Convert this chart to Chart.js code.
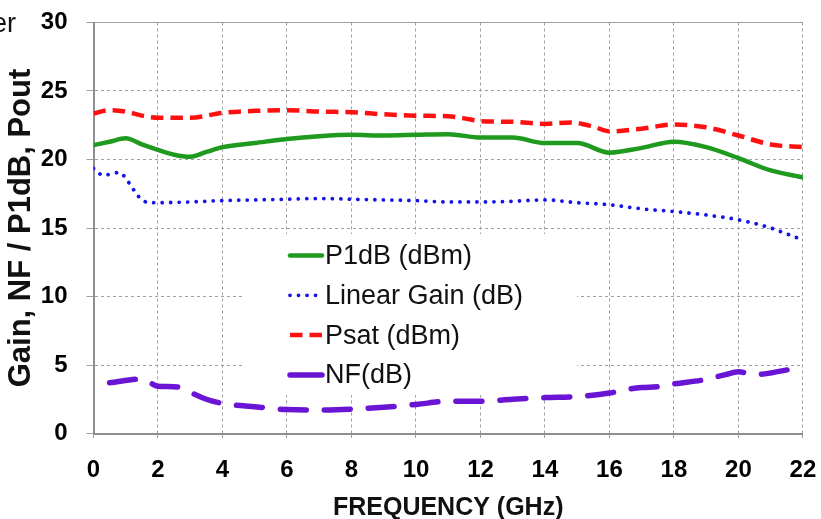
<!DOCTYPE html>
<html><head><meta charset="utf-8">
<script src="https://cdn.jsdelivr.net/npm/chart.js@4.4.1/dist/chart.umd.min.js"></script>
<style>html,body{margin:0;padding:0;background:#fff;}#wrap{width:821px;height:519px;position:relative;}</style>
</head><body><div id="wrap"><canvas id="c" width="821" height="519"></canvas></div>
<script>
// ---- data ----
const xTickValues = [0,2,4,6,8,10,12,14,16,18,20,22];
const yTickValues = [0,5,10,15,20,25,30];
const seriesLabels = ['P1dB (dBm)','Linear Gain (dB)','Psat (dBm)','NF(dB)'];

const p1dbFreq = [0,0.5,1,1.5,2,2.5,3,3.5,4,5,6,7,8,9,10,11,12,13,14,15,16,17,18,19,20,21,22];
const p1dbVals = [21.05,21.3,21.55,21.1,20.7,20.35,20.2,20.55,20.9,21.2,21.5,21.7,21.8,21.75,21.8,21.85,21.6,21.6,21.2,21.2,20.5,20.85,21.3,20.9,20.1,19.2,18.7];

const gainFreq = [0,0.3,0.8,1.1,1.3,1.5,1.8,2,3,4,5,6,7,8,9,10,11,12,13,14,15,16,17,18,19,20,21,21.8];
const gainVals = [19.35,18.85,19.05,18.3,17.6,17.05,16.85,16.85,16.9,17.0,17.05,17.1,17.15,17.1,17.05,17.0,16.9,16.9,16.95,17.05,16.85,16.7,16.4,16.2,15.95,15.6,15.0,14.3];

const psatFreq = [0,0.5,1,1.5,2,3,4,5,6,7,8,9,10,11,11.5,12,13,14,14.8,15.5,16,17,18,19,20,21,22];
const psatVals = [23.35,23.6,23.5,23.2,23.05,23.05,23.4,23.55,23.6,23.5,23.45,23.3,23.2,23.15,23.0,22.8,22.75,22.6,22.7,22.4,22.05,22.25,22.55,22.35,21.75,21.1,20.9];

const nfFreq = [0.5,1.5,2,2.6,3,3.5,4,5,6,7,8,9,10,11,12,13,14,15,16,16.5,17,17.5,18,19,19.6,20,20.5,21,21.8];
const nfVals = [3.7,3.98,3.45,3.4,3.0,2.5,2.2,1.95,1.75,1.72,1.78,1.92,2.12,2.35,2.35,2.5,2.62,2.7,2.95,3.2,3.35,3.42,3.62,3.95,4.3,4.5,4.3,4.42,4.78];

const toXY = (xs, ys) => xs.map((x, i) => ({x, y: ys[i]}));

const FONT = "'Liberation Sans', Arial, Helvetica, sans-serif";

const insideLegend = {
  id: 'insideLegend',
  beforeDatasetsDraw(chart) {
    const {ctx, chartArea: a} = chart;
    ctx.save();
    ctx.fillStyle = '#ffffff';
    ctx.fillRect(a.left + 149.5, a.top + 211.5, 334, 161);
    ctx.restore();
  },
  afterDraw(chart) {
    const {ctx, chartArea: a} = chart;
    ctx.save();
    chart.data.datasets.forEach((ds, i) => {
      const y = a.top + 233 + i * 39.8;
      const x0 = a.left + 196.5;
      ctx.beginPath();
      ctx.strokeStyle = ds.borderColor;
      ctx.lineWidth = ds.borderWidth;
      ctx.lineCap = ds.borderCapStyle || 'butt';
      ctx.setLineDash(ds.legendDash || ds.borderDash || []);
      ctx.moveTo(x0, y);
      ctx.lineTo(x0 + 32, y);
      ctx.stroke();
      ctx.setLineDash([]);
      ctx.fillStyle = '#111';
      ctx.font = '27px ' + FONT;
      ctx.textBaseline = 'middle';
      ctx.textAlign = 'left';
      ctx.fillText(ds.label, x0 + 35, y + 1);
    });
    // cropped title fragment at top-left
    ctx.font = '27px ' + FONT;
    ctx.fillStyle = '#111';
    ctx.textAlign = 'right';
    ctx.textBaseline = 'alphabetic';
    ctx.fillText('er', 16, 32);
    ctx.restore();
  }
};

new Chart(document.getElementById('c'), {
  type: 'line',
  data: {
    datasets: [
      {label: seriesLabels[0], data: toXY(p1dbFreq, p1dbVals), borderColor: '#1f9a1f', borderWidth: 4.5,
       pointRadius: 0, cubicInterpolationMode: 'monotone', borderCapStyle: 'round'},
      {label: seriesLabels[1], data: toXY(gainFreq, gainVals), borderColor: '#1414e6', borderWidth: 3.8,
       borderDash: [0.01, 8.5], borderCapStyle: 'round', pointRadius: 0, cubicInterpolationMode: 'monotone'},
      {label: seriesLabels[2], data: toXY(psatFreq, psatVals), borderColor: '#ff1010', borderWidth: 4.5,
       borderDash: [12.5, 7], borderCapStyle: 'butt', pointRadius: 0, cubicInterpolationMode: 'monotone'},
      {label: seriesLabels[3], data: toXY(nfFreq, nfVals), borderColor: '#6a14d4', borderWidth: 5.5,
       borderDash: [26, 18], legendDash: [], borderCapStyle: 'round', pointRadius: 0, cubicInterpolationMode: 'monotone'}
    ]
  },
  plugins: [insideLegend],
  options: {
    responsive: false,
    animation: false,
    devicePixelRatio: 1,
    layout: {padding: {left: 0, right: 0, top: 0, bottom: 0}},
    plugins: {legend: {display: false}, tooltip: {enabled: false}},
    scales: {
      x: {
        type: 'linear', min: 0, max: 22,
        afterBuildTicks: s => { s.ticks = xTickValues.map(v => ({value: v})); },
        afterFit: s => { s.height = 85.5; },
        ticks: {font: {family: FONT, size: 24, weight: 'bold', lineHeight: '50px'}, color: '#000', padding: 4.7, maxRotation: 0},
        grid: {color: '#a0a0a0', lineWidth: 1, tickLength: 7, tickColor: '#a0a0a0', tickBorderDash: [3, 3]},
        border: {display: true, color: '#8f8f8f', width: 2, dash: [3, 3]},
        title: {display: true, text: 'FREQUENCY (GHz)', color: '#111',
                font: {family: FONT, size: 25, weight: 'bold', lineHeight: '21px'}, padding: {top: 0, bottom: 0}}
      },
      y: {
        type: 'linear', min: 0, max: 30,
        afterBuildTicks: s => { s.ticks = yTickValues.map(v => ({value: v})); },
        afterFit: s => { s.width = 93.5; },
        ticks: {font: {family: FONT, size: 24, weight: 'bold', lineHeight: '7px'}, color: '#000', padding: 19},
        grid: {color: '#a0a0a0', lineWidth: 1, tickLength: 7, tickColor: '#a0a0a0'},
        border: {display: true, color: '#8f8f8f', width: 2,
                 dash: ctx => (ctx.tick && ctx.tick.value === 30) ? [] : [3, 3]},
        title: {display: true, text: 'Gain, NF / P1dB, Pout', color: '#111',
                font: {family: FONT, size: 31, weight: 'bold'}, padding: {top: 3, bottom: 0}}
      }
    }
  }
});
</script></body></html>
